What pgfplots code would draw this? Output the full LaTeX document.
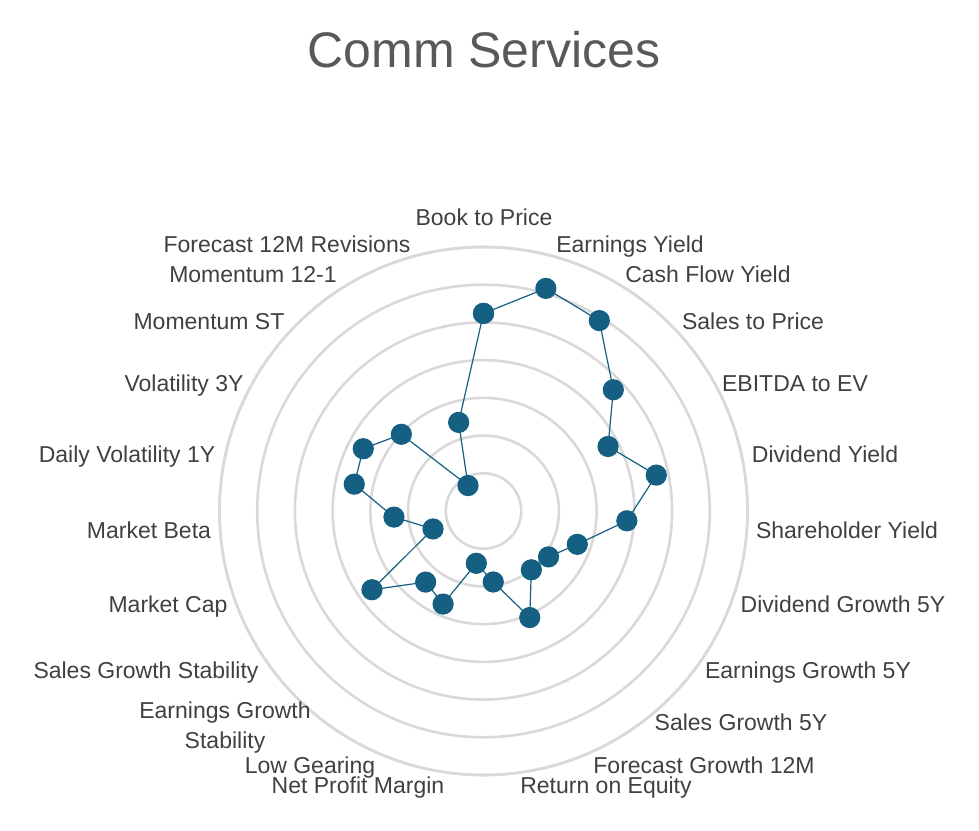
\documentclass[border=0pt]{standalone}
\usepackage{pgfplots}
\pgfplotsset{compat=1.18}
\usepackage{pgfplotstable}
\usepgfplotslibrary{polar}
\usepackage{fontspec}
\setmainfont{Liberation Sans}

\definecolor{series}{HTML}{156082}
\definecolor{gridgray}{HTML}{D9D9D9}
\definecolor{labgray}{HTML}{404040}
\definecolor{titlegray}{HTML}{595959}

% factor scores, one per category, clockwise from the top (angle in degrees)
\pgfplotstableread{
angle     val
90.000    5.24
74.348    6.13
58.696    5.91
43.043    4.71
27.391    3.72
11.739    4.68
-3.913    3.81
-19.565   2.64
-35.217   2.11
-50.870   2.01
-66.522   3.08
-82.174   1.90
-97.826   1.40
-113.478  2.69
-129.130  2.43
-144.783  3.62
-160.435  1.42
-176.087  2.38
168.261   3.50
152.609   3.59
136.957   2.98
121.304   0.79
105.652   2.44
90.000    5.24
}\scores

\begin{document}
\begin{tikzpicture}
\useasboundingbox (-241.75pt,-159.5pt) rectangle (247.75pt,255.5pt);

\begin{polaraxis}[
    at={(0,0)}, anchor=center,
    scale only axis, width=264pt, height=264pt,
    ymin=0, ymax=7,
    xtick=\empty,
    ytick={1,2,3,4,5,6,7},
    yticklabels={},
    major tick length=0pt,
    ymajorgrids,
    y grid style={draw=gridgray, line width=1.3pt},
    x axis line style={draw=gridgray, line width=1.3pt},
    y axis line style={draw=none},
]
\addplot[color=series, line width=0.6pt, mark=*, mark size=5pt,
         mark options={fill=series, draw=series}]
    table[x=angle, y=val] {\scores};
\end{polaraxis}

% labels, placed in reference pixel coordinates (baseline)
\begin{scope}[x=0.5pt, y=-0.5pt, shift={(-241.75pt,255.5pt)},
    lbl/.style={anchor=base, inner sep=0pt, text=labgray,
                font=\fontsize{11.5}{13}\selectfont}]
\node[anchor=base, inner sep=0pt, text=titlegray,
      font=\fontsize{25}{30}\selectfont] at (484,68) {Comm Services};
\node[lbl] at (484,226) {Book to Price};
\node[lbl] at (630,253) {Earnings Yield};
\node[lbl] at (708,283) {Cash Flow Yield};
\node[lbl] at (753,330) {Sales to Price};
\node[lbl] at (795,392) {EBITDA to EV};
\node[lbl] at (825,463) {Dividend Yield};
\node[lbl] at (847,538) {Shareholder Yield};
\node[lbl] at (843,612) {Dividend Growth 5Y};
\node[lbl] at (808,678) {Earnings Growth 5Y};
\node[lbl] at (741,730) {Sales Growth 5Y};
\node[lbl] at (704,773) {Forecast Growth 12M};
\node[lbl] at (606,793) {Return on Equity};
\node[lbl] at (358,793) {Net Profit Margin};
\node[lbl] at (310,773) {Low Gearing};
\node[lbl] at (225,718) {Earnings Growth};
\node[lbl] at (225,748) {Stability};
\node[lbl] at (146,678) {Sales Growth Stability};
\node[lbl] at (168,612) {Market Cap};
\node[lbl] at (149,538) {Market Beta};
\node[lbl] at (127,463) {Daily Volatility 1Y};
\node[lbl] at (184,392) {Volatility 3Y};
\node[lbl] at (209,330) {Momentum ST};
\node[lbl] at (253,283) {Momentum 12-1};
\node[lbl] at (287,253) {Forecast 12M Revisions};
\end{scope}
\end{tikzpicture}
\end{document}
